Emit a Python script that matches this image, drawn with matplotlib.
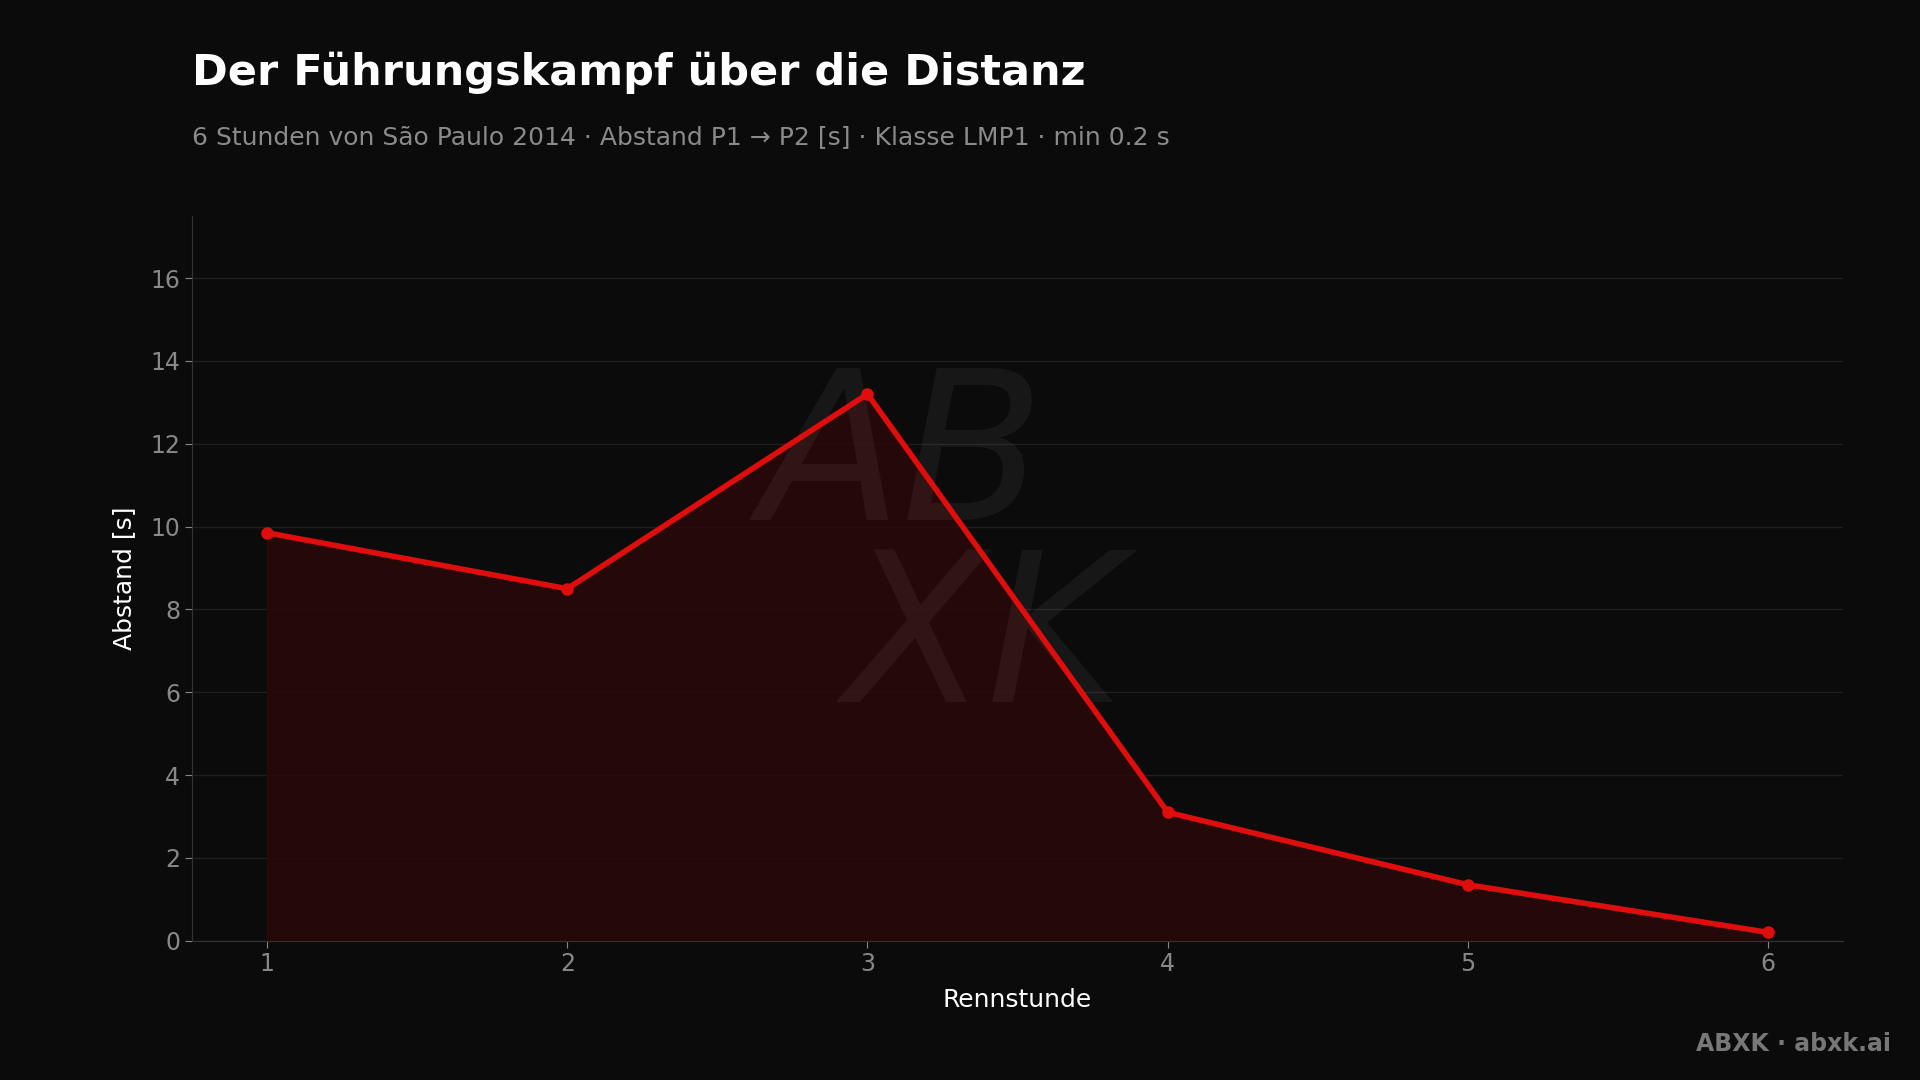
import matplotlib
matplotlib.use("Agg")
import matplotlib.pyplot as plt

hours = [1, 2, 3, 4, 5, 6]
gap = [9.85, 8.5, 13.2, 3.1, 1.35, 0.2]
yticks = [0, 2, 4, 6, 8, 10, 12, 14, 16]

bg = "#0b0b0b"
red = "#e00d0d"
fig = plt.figure(figsize=(19.2, 10.8), dpi=100, facecolor=bg)
ax = fig.add_axes([0.100, 0.129, 0.860, 0.671], facecolor=bg)
ax.fill_between(hours, gap, 0, color="#2a0909", alpha=0.85, zorder=1)
ax.plot(hours, gap, color=red, lw=4, marker="o", ms=8, zorder=3)
ax.set_xlim(0.75, 6.25)
ax.set_ylim(0, 17.5)
ax.set_yticks(yticks)
ax.set_xticks(hours)
ax.grid(axis="y", color="#1e1e1e", lw=1)
ax.set_axisbelow(True)
for s in ["top", "right"]:
    ax.spines[s].set_visible(False)
for s in ["left", "bottom"]:
    ax.spines[s].set_color("#333333")
ax.tick_params(colors="#888888", labelsize=17, length=5)
ax.set_xlabel("Rennstunde", color="white", fontsize=18, labelpad=8)
ax.set_ylabel("Abstand [s]", color="white", fontsize=18, labelpad=10)

ax.text(0.43, 0.66, "AB", transform=ax.transAxes, color="#ffffff", alpha=0.05,
        fontsize=150, style="italic", ha="center", va="center", zorder=2)
ax.text(0.48, 0.41, "XK", transform=ax.transAxes, color="#ffffff", alpha=0.05,
        fontsize=150, style="italic", ha="center", va="center", zorder=2)

fig.text(0.100, 0.933, "Der Führungskampf über die Distanz", color="white",
         fontsize=31, fontweight="bold", va="center")
fig.text(0.100, 0.873, "6 Stunden von São Paulo 2014 · Abstand P1 → P2 [s] · Klasse LMP1 · min 0.2 s",
         color="#8a8a8a", fontsize=18, va="center")
fig.text(0.985, 0.033, "ABXK · abxk.ai", color="#777777", fontsize=17,
         fontweight="bold", ha="right", va="center")

fig.savefig("out.png", facecolor=bg)
